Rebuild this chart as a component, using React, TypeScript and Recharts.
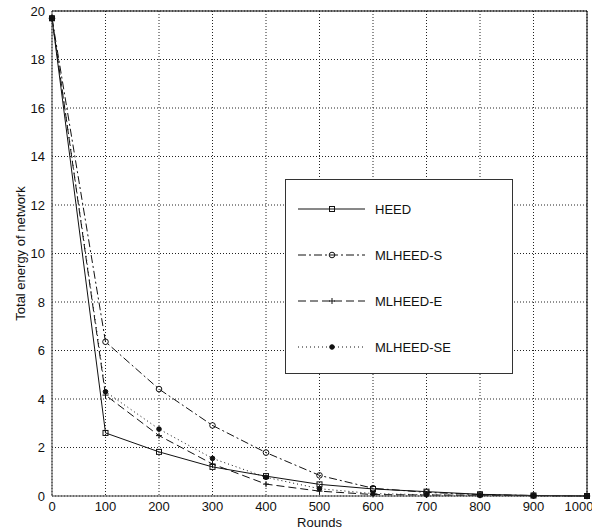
import { LineChart, Line, XAxis, YAxis, CartesianGrid, Legend } from "recharts";

const ROUNDS = [0, 100, 200, 300, 400, 500, 600, 700, 800, 900, 1000];
const HEED = [19.7, 2.6, 1.82, 1.2, 0.82, 0.48, 0.29, 0.18, 0.07, 0.02, 0];
const MLHEED_S = [19.7, 6.36, 4.41, 2.91, 1.79, 0.85, 0.32, 0.15, 0.06, 0.02, 0];
const MLHEED_E = [19.7, 4.16, 2.49, 1.32, 0.49, 0.2, 0.06, 0.04, 0.03, 0.01, 0];
const MLHEED_SE = [19.7, 4.3, 2.76, 1.55, 0.77, 0.3, 0.1, 0.05, 0.03, 0.01, 0];

const X_TICKS = [0, 100, 200, 300, 400, 500, 600, 700, 800, 900, 1000];
const Y_TICKS = [0, 2, 4, 6, 8, 10, 12, 14, 16, 18, 20];

const FONT = '"Liberation Sans", Arial, sans-serif';
const INK = "#111";

type Marker = "square" | "circle" | "plus" | "dot";

const SERIES: { key: string; name: string; dash?: string; marker: Marker }[] = [
  { key: "heed", name: "HEED", marker: "square" },
  { key: "mlheedS", name: "MLHEED-S", dash: "8 3 2 3", marker: "circle" },
  { key: "mlheedE", name: "MLHEED-E", dash: "8 4", marker: "plus" },
  { key: "mlheedSE", name: "MLHEED-SE", dash: "1 3", marker: "dot" },
];

const data = ROUNDS.map((round, i) => ({
  round,
  heed: HEED[i],
  mlheedS: MLHEED_S[i],
  mlheedE: MLHEED_E[i],
  mlheedSE: MLHEED_SE[i],
}));

function drawMarker(kind: Marker, cx: number, cy: number, key?: string) {
  switch (kind) {
    case "square":
      return <rect key={key} x={cx - 2.5} y={cy - 2.5} width={5} height={5} fill="none" stroke={INK} />;
    case "circle":
      return <circle key={key} cx={cx} cy={cy} r={2.8} fill="none" stroke={INK} />;
    case "plus":
      return (
        <path key={key} d={`M${cx - 3},${cy}H${cx + 3}M${cx},${cy - 3}V${cy + 3}`} stroke={INK} fill="none" />
      );
    default:
      return <circle key={key} cx={cx} cy={cy} r={2.3} fill={INK} stroke={INK} />;
  }
}

function markerDot(kind: Marker) {
  // eslint-disable-next-line @typescript-eslint/no-explicit-any
  return (p: any) => {
    if (p.cx == null || p.cy == null) return <g key={p.key} />;
    return drawMarker(kind, p.cx, p.cy, p.key);
  };
}

function LegendBox() {
  return (
    <div
      style={{
        width: 228,
        height: 195,
        boxSizing: "border-box",
        border: "1px solid #333",
        background: "#fff",
        paddingTop: 6,
        fontFamily: FONT,
        fontSize: 13,
        color: INK,
      }}
    >
      {SERIES.map((s) => (
        <div key={s.key} style={{ height: 46, display: "flex", alignItems: "center" }}>
          <svg width={68} height={10} style={{ marginLeft: 12, overflow: "visible" }}>
            <line x1={0} y1={5} x2={67} y2={5} stroke={INK} strokeDasharray={s.dash} />
            {drawMarker(s.marker, 34, 5)}
          </svg>
          <span style={{ marginLeft: 9 }}>{s.name}</span>
        </div>
      ))}
    </div>
  );
}

// eslint-disable-next-line @typescript-eslint/no-explicit-any
const YLabel = ({ viewBox }: any) => {
  const cy = viewBox.y + viewBox.height / 2;
  return (
    <text x={25} y={cy} transform={`rotate(-90, 25, ${cy})`} textAnchor="middle" fontSize={13} fontFamily={FONT} fill={INK}>
      Total energy of network
    </text>
  );
};

// eslint-disable-next-line @typescript-eslint/no-explicit-any
const XLabel = ({ viewBox }: any) => (
  <text x={viewBox.x + viewBox.width / 2} y={527} textAnchor="middle" fontSize={13} fontFamily={FONT} fill={INK}>
    Rounds
  </text>
);

export default function App() {
  const tickStyle = { fontSize: 13, fill: INK, fontFamily: FONT };
  return (
    <div style={{ position: "absolute", left: 0, top: 0, width: 592, height: 531, background: "#fff" }}>
      <LineChart width={592} height={531} data={data} margin={{ top: 11, right: 5, bottom: 0, left: 0 }}>
        <CartesianGrid stroke="#222" strokeDasharray="1 2" />
        <XAxis
          type="number"
          dataKey="round"
          domain={[0, 1000]}
          ticks={X_TICKS}
          height={35}
          tickLine={false}
          tickSize={5}
          tickMargin={1}
          axisLine={{ stroke: "#444" }}
          tick={tickStyle}
          label={<XLabel />}
        />
        <XAxis xAxisId="bottomTicks" type="number" dataKey="round" domain={[0, 1000]} ticks={X_TICKS} orientation="bottom" mirror tick={false} tickSize={5} axisLine={false} tickLine={{ stroke: "#222" }} />
        <XAxis xAxisId="top" type="number" dataKey="round" domain={[0, 1000]} ticks={X_TICKS} orientation="top" mirror tick={false} tickSize={5} axisLine={{ stroke: "#000" }} tickLine={{ stroke: "#222" }} />
        <YAxis
          type="number"
          domain={[0, 20]}
          ticks={Y_TICKS}
          width={52}
          tickLine={false}
          tickSize={5}
          tickMargin={2}
          axisLine={{ stroke: "#444" }}
          tick={tickStyle}
          label={<YLabel />}
        />
        <YAxis yAxisId="leftTicks" type="number" domain={[0, 20]} ticks={Y_TICKS} orientation="left" mirror tick={false} tickSize={5} axisLine={false} tickLine={{ stroke: "#222" }} />
        <YAxis yAxisId="right" type="number" domain={[0, 20]} ticks={Y_TICKS} orientation="right" mirror tick={false} tickSize={5} axisLine={{ stroke: "#000" }} tickLine={{ stroke: "#222" }} />
        {SERIES.map((s) => (
          <Line
            key={s.key}
            type="linear"
            dataKey={s.key}
            name={s.name}
            stroke={INK}
            strokeWidth={1}
            strokeDasharray={s.dash}
            dot={markerDot(s.marker)}
            activeDot={false}
            isAnimationActive={false}
          />
        ))}
        <Legend
          layout="vertical"
          align="center"
          verticalAlign="middle"
          content={<LegendBox />}
          wrapperStyle={{ left: 285, top: 179, width: 228, height: 195 }}
        />
      </LineChart>
    </div>
  );
}
